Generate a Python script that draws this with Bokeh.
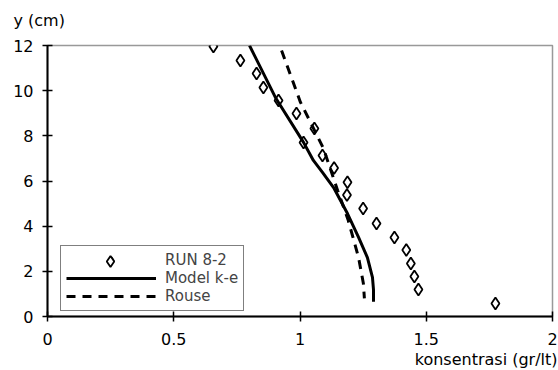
from bokeh.plotting import figure
from bokeh.models import Range1d, Legend, LegendItem, FixedTicker, Title
from bokeh.embed import file_html
from bokeh.resources import INLINE

# Data
run_x = [0.657, 0.764, 0.828, 0.855, 0.915, 0.986, 1.057, 1.014, 1.089, 1.135, 1.188,
         1.186, 1.250, 1.303, 1.374, 1.421, 1.439, 1.453, 1.469, 1.774]
run_y = [11.96, 11.34, 10.76, 10.14, 9.57, 8.99, 8.33, 7.71, 7.13, 6.58, 5.95,
         5.38, 4.78, 4.12, 3.50, 2.95, 2.35, 1.77, 1.20, 0.58]

model_x = [0.800, 0.905, 1.014, 1.053, 1.089, 1.133, 1.188, 1.232, 1.267, 1.287, 1.291, 1.291]
model_y = [12.0, 9.65, 7.71, 6.91, 6.38, 5.71, 4.56, 3.50, 2.61, 1.73, 1.20, 0.65]

rouse_x = [0.927, 1.002, 1.042, 1.093, 1.149, 1.190, 1.232, 1.251, 1.255]
rouse_y = [11.78, 9.48, 8.59, 7.44, 5.58, 4.30, 2.61, 1.46, 0.80]

x_ticks = [0, 0.5, 1, 1.5, 2]
y_ticks = [0, 2, 4, 6, 8, 10, 12]

FONT = "DejaVu Sans"

p = figure(width=558, height=370, output_backend="svg", toolbar_location=None,
           x_range=Range1d(0, 2), y_range=Range1d(0, 12),
           min_border_left=47, min_border_right=6, min_border_top=45, min_border_bottom=54)
p.background_fill_color = "white"
p.border_fill_color = "white"
p.outline_line_color = "#999999"
p.outline_line_width = 1.5
p.xgrid.visible = False
p.ygrid.visible = False

for ax, ticks in ((p.xaxis, x_ticks), (p.yaxis, y_ticks)):
    ax.ticker = FixedTicker(ticks=ticks)
    ax.axis_line_color = "black"
    ax.axis_line_width = 2
    ax.major_tick_line_color = "black"
    ax.major_tick_line_width = 1.5
    ax.major_tick_in = 5
    ax.major_tick_out = 5
    ax.minor_tick_line_color = None
    ax.major_label_text_font = FONT
    ax.major_label_text_font_size = "16px"
    ax.major_label_text_color = "black"
p.xaxis.major_label_standoff = 11
p.yaxis.major_label_standoff = 9
p.xaxis.major_label_overrides = {0: "0", 0.5: "0.5", 1: "1", 1.5: "1.5", 2: "2"}

r_run = p.scatter(run_x, run_y, marker="diamond", size=12, fill_color="white",
                  line_color="black", line_width=1.8)
r_model = p.line(model_x, model_y, line_color="black", line_width=3)
r_rouse = p.line(rouse_x, rouse_y, line_color="black", line_width=3, line_dash="9 7")

legend = Legend(items=[LegendItem(label="RUN 8-2", renderers=[r_run]),
                       LegendItem(label="Model k-e", renderers=[r_model]),
                       LegendItem(label="Rouse", renderers=[r_rouse])],
                location=(13, 5), orientation="vertical")
legend.label_text_font = FONT
legend.label_text_font_size = "15px"
legend.label_height = 16
legend.glyph_height = 16
legend.glyph_width = 90
legend.label_standoff = 9
legend.spacing = 0
legend.padding = 5
legend.margin = 0
legend.border_line_color = "black"
legend.border_line_width = 1
legend.background_fill_color = "white"
legend.background_fill_alpha = 1
p.add_layout(legend, "center")

# overlay to draw the legend diamond at full marker size
legend_marker = Legend(items=[LegendItem(label=" ", renderers=[r_run])],
                       location=(49, 41), orientation="vertical")
legend_marker.label_text_font_size = "10px"
legend_marker.label_height = 28
legend_marker.glyph_height = 28
legend_marker.glyph_width = 28
legend_marker.label_standoff = 0
legend_marker.padding = 0
legend_marker.margin = 0
legend_marker.border_line_color = None
legend_marker.background_fill_alpha = 0
p.add_layout(legend_marker, "center")

spacer = Title(text=" ", standoff=0, text_font_size="8px")
p.add_layout(spacer, "above")
ytitle = Title(text="y (cm)", align="left", offset=-34,
               text_font=FONT, text_font_size="16px", text_font_style="normal",
               text_color="black")
p.add_layout(ytitle, "above")
xtitle = Title(text="konsentrasi (gr/lt)", align="right", offset=-5, standoff=0,
               text_font=FONT, text_font_size="16px", text_font_style="normal",
               text_color="black")
p.add_layout(xtitle, "below")

open("out.html", "w").write(file_html(p, INLINE))
